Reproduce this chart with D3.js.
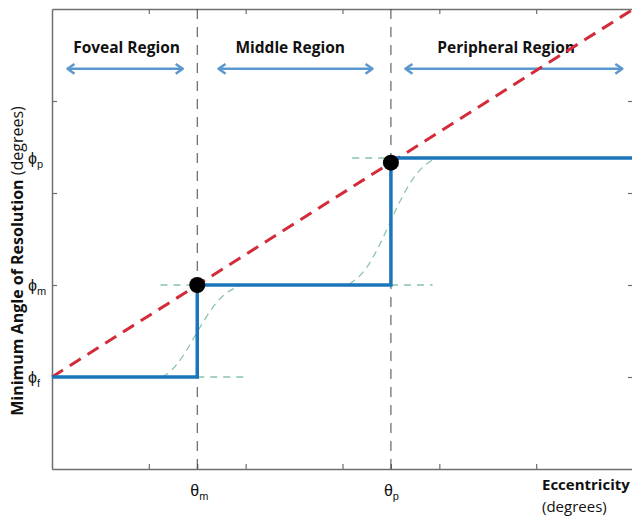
<!DOCTYPE html>
<html>
<head>
<meta charset="utf-8">
<script src="https://cdn.jsdelivr.net/npm/d3@7/dist/d3.min.js"></script>
<style>
  body { margin: 0; background: #fff; }
  svg { display: block; }
</style>
</head>
<body>
<div id="chart"></div>
<script>
// staircase of minimum angle of resolution vs eccentricity (units of the axes)
var stepX = [0, 1.5, 1.5, 3.5, 3.5, 6.2];
var stepY = [1, 1, 2, 2, 3.38, 3.38];

var lineX = [0, 6.2];
var lineY = [1, 5.13];

var dotX = [1.5, 3.5];
var dotY = [2, 3.33];

// smooth transitions
var curve1X = [1.14, 1.27, 1.42, 1.51, 1.63, 1.78, 1.96];
var curve1Y = [1.0, 1.09, 1.34, 1.51, 1.72, 1.92, 2.0];
var curve2X = [3.07, 3.22, 3.37, 3.5, 3.63, 3.8, 3.98];
var curve2Y = [2.01, 2.12, 2.4, 2.7, 3.0, 3.28, 3.39];

// short green dashed guides: [x1, x2, y]
var guides = [[1.12, 1.5, 2], [1.5, 2.0, 1], [3.1, 3.5, 3.38], [3.5, 3.93, 2]];

var regions = ["Foveal Region", "Middle Region", "Peripheral Region"];
var regionCenter = [0.77, 2.46, 4.69];
var arrowFrom = [0.16, 1.72, 3.65];
var arrowTo = [1.35, 3.31, 5.89];
var regionY = 4.35;

var xTicks = [1, 2, 3, 4, 5];
var yTicks = [1, 2, 3, 4];
var thetaTicks = [1.5, 3.5];
var thetaSubs = ["m", "p"];
var phiTicks = [3.38, 2, 1];
var phiSubs = ["p", "m", "f"];

var W = 632, H = 517;
var margin = {top: 9, right: -1, bottom: 48, left: 52};

var svg = d3.select("#chart").append("svg")
  .attr("width", W).attr("height", H);

var x = d3.scaleLinear().domain([0, 6]).range([margin.left, W - margin.right]);
var y = d3.scaleLinear().domain([0, 5]).range([H - margin.bottom, margin.top]);

var axisColor = "#6f6f6f";

// axes with inward ticks on all four sides
function styleAxis(g) {
  g.select(".domain").attr("stroke", axisColor).attr("stroke-width", 1.5);
  g.selectAll(".tick line").attr("stroke", axisColor).attr("stroke-width", 1.2);
}
svg.append("g").attr("transform", "translate(0," + y(0) + ")")
  .call(d3.axisBottom(x).tickValues(xTicks.concat(thetaTicks)).tickSize(-5).tickSizeOuter(0).tickFormat(""))
  .call(styleAxis);
svg.append("g").attr("transform", "translate(0," + y(5) + ")")
  .call(d3.axisTop(x).tickValues(xTicks).tickSize(-5).tickSizeOuter(0).tickFormat(""))
  .call(styleAxis);
svg.append("g").attr("transform", "translate(" + x(0) + ",0)")
  .call(d3.axisLeft(y).tickValues(yTicks).tickSize(-5).tickSizeOuter(0).tickFormat(""))
  .call(styleAxis);
svg.append("g").attr("transform", "translate(" + x(6) + ",0)")
  .call(d3.axisRight(y).tickValues(yTicks).tickSize(-5).tickSizeOuter(0).tickFormat(""))
  .call(styleAxis);

// vertical region boundaries
svg.selectAll(".bound").data(thetaTicks).enter().append("line")
  .attr("x1", function(d) { return x(d); }).attr("x2", function(d) { return x(d); })
  .attr("y1", y(5)).attr("y2", y(0))
  .attr("stroke", "#444").attr("stroke-width", 1)
  .attr("stroke-dasharray", "10,8");

// region arrows
var arrowColor = "#5b97cf";
var head = 7;
for (var i = 0; i < regions.length; i++) {
  var ay = y(regionY), ax1 = x(arrowFrom[i]), ax2 = x(arrowTo[i]);
  svg.append("line")
    .attr("x1", ax1 + 1).attr("x2", ax2 - 1).attr("y1", ay).attr("y2", ay)
    .attr("stroke", arrowColor).attr("stroke-width", 2.5);
  svg.append("path")
    .attr("d", "M" + (ax1 + head) + "," + (ay - head * 0.7) + "L" + ax1 + "," + ay + "L" + (ax1 + head) + "," + (ay + head * 0.7))
    .attr("fill", "none").attr("stroke", arrowColor).attr("stroke-width", 2.5).attr("stroke-linejoin", "round");
  svg.append("path")
    .attr("d", "M" + (ax2 - head) + "," + (ay - head * 0.7) + "L" + ax2 + "," + ay + "L" + (ax2 - head) + "," + (ay + head * 0.7))
    .attr("fill", "none").attr("stroke", arrowColor).attr("stroke-width", 2.5).attr("stroke-linejoin", "round");
  svg.append("text")
    .attr("x", x(regionCenter[i])).attr("y", y(regionY) - 16)
    .attr("text-anchor", "middle")
    .style("font-family", "'Open Sans', sans-serif").style("font-weight", "bold").style("font-size", "15.5px")
    .attr("fill", "#111")
    .text(regions[i]);
}

// green transition curves and guides
var green = "#86c4a6";
var lineGen = d3.line().x(function(d) { return x(d[0]); }).y(function(d) { return y(d[1]); }).curve(d3.curveBasis);
[[curve1X, curve1Y], [curve2X, curve2Y]].forEach(function(c) {
  svg.append("path")
    .datum(d3.zip(c[0], c[1]))
    .attr("d", lineGen)
    .attr("fill", "none").attr("stroke", green).attr("stroke-width", 1.2)
    .attr("stroke-dasharray", "7,5");
});
svg.selectAll(".guide").data(guides).enter().append("line")
  .attr("x1", function(d) { return x(d[0]); }).attr("x2", function(d) { return x(d[1]); })
  .attr("y1", function(d) { return y(d[2]); }).attr("y2", function(d) { return y(d[2]); })
  .attr("stroke", green).attr("stroke-width", 1.5).attr("stroke-dasharray", "7,6");

// red dashed linear line
svg.append("path")
  .datum(d3.zip(lineX, lineY))
  .attr("d", d3.line().x(function(d) { return x(d[0]); }).y(function(d) { return y(d[1]); }))
  .attr("fill", "none").attr("stroke", "#d42b3a").attr("stroke-width", 3)
  .attr("stroke-dasharray", "13,8");

// blue staircase
svg.append("path")
  .datum(d3.zip(stepX, stepY))
  .attr("d", d3.line().x(function(d) { return x(d[0]); }).y(function(d) { return y(d[1]); }))
  .attr("fill", "none").attr("stroke", "#1b75bb").attr("stroke-width", 3.5)
  .attr("stroke-linejoin", "miter");

// black dots
svg.selectAll(".dot").data(d3.zip(dotX, dotY)).enter().append("circle")
  .attr("cx", function(d) { return x(d[0]); }).attr("cy", function(d) { return y(d[1]); })
  .attr("r", 8).attr("fill", "#000");

// theta labels
var labFont = "'Liberation Sans', Arial, sans-serif";
thetaTicks.forEach(function(t, i) {
  var tx = svg.append("text")
    .attr("x", x(t) - 7).attr("y", y(0) + 27)
    .style("font-family", labFont).style("font-size", "16px").attr("fill", "#111");
  tx.append("tspan").text("θ");
  tx.append("tspan").attr("dy", 4).style("font-size", "11px").text(thetaSubs[i]);
});

// phi labels
phiTicks.forEach(function(p, i) {
  var tx = svg.append("text")
    .attr("x", 28).attr("y", y(p) + 6)
    .style("font-family", labFont).style("font-size", "16px").attr("fill", "#111");
  tx.append("tspan").text("ϕ");
  tx.append("tspan").attr("dy", 4).style("font-size", "11px").text(phiSubs[i]);
});

// axis titles
var yt = svg.append("text")
  .attr("transform", "translate(23," + 261 + ") rotate(-90)")
  .attr("text-anchor", "middle")
  .style("font-family", "'Open Sans', sans-serif").style("font-size", "16px").attr("fill", "#111");
yt.append("tspan").style("font-weight", "bold").text("Minimum Angle of Resolution ");
yt.append("tspan").text("(degrees)");

svg.append("text")
  .attr("x", 542).attr("y", 490)
  .style("font-family", "'Open Sans', sans-serif").style("font-weight", "bold").style("font-size", "15px")
  .attr("fill", "#111").text("Eccentricity");
svg.append("text")
  .attr("x", 542).attr("y", 512)
  .style("font-family", "'Open Sans', sans-serif").style("font-size", "15px")
  .attr("fill", "#111").text("(degrees)");
</script>
</body>
</html>
